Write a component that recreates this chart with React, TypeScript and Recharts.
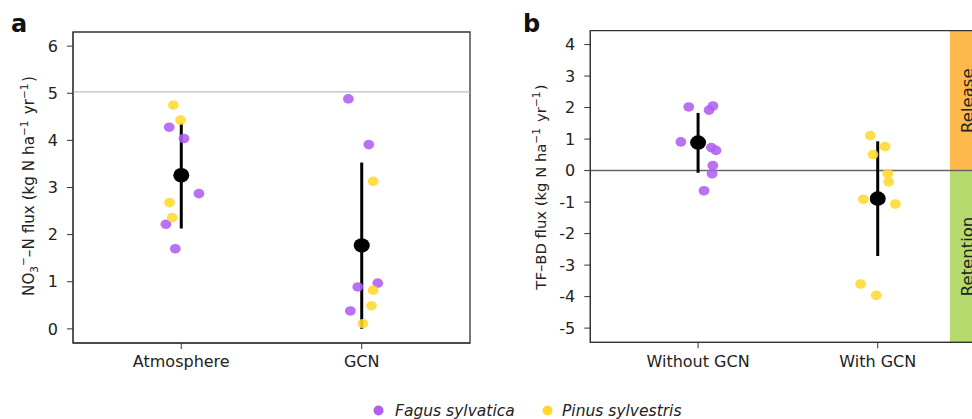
import {
  ErrorBar,
  ReferenceArea,
  ReferenceLine,
  Scatter,
  ScatterChart,
  XAxis,
  YAxis,
} from "recharts";

// categories
const groupsA = ["Atmosphere", "GCN"];
const groupsB = ["Without GCN", "With GCN"];

// panel a: [jitter offset from group centre, flux]
const atmFagus = [
  [-0.067, 4.28],
  [0.015, 4.04],
  [0.098, 2.87],
  [-0.085, 2.22],
  [-0.033, 1.7],
];
const atmPinus = [
  [-0.044, 4.75],
  [-0.004, 4.43],
  [-0.065, 2.68],
  [-0.05, 2.36],
];
const gcnFagus = [
  [-0.074, 4.88],
  [0.039, 3.91],
  [0.089, 0.97],
  [-0.022, 0.89],
  [-0.063, 0.38],
];
const gcnPinus = [
  [0.063, 3.13],
  [0.063, 0.82],
  [0.054, 0.49],
  [0.006, 0.11],
];
const meanA = [3.26, 1.77];
const lowA = [2.13, 0];
const highA = [4.37, 3.53];
const refLineA = 5.03;

// panel b
const withoutFagus = [
  [-0.052, 2.02],
  [0.083, 2.05],
  [0.061, 1.92],
  [-0.096, 0.91],
  [0.074, 0.73],
  [0.1, 0.64],
  [0.082, 0.16],
  [0.078, -0.1],
  [0.033, -0.64],
];
const withPinus = [
  [-0.041, 1.11],
  [0.041, 0.76],
  [-0.026, 0.51],
  [0.056, -0.1],
  [0.061, -0.36],
  [-0.08, -0.91],
  [0.098, -1.06],
  [-0.095, -3.6],
  [-0.008, -3.96],
];
const meanB = [0.89, -0.89];
const lowB = [-0.07, -2.71];
const highB = [1.83, 0.93];

const ticksA = [0, 1, 2, 3, 4, 5, 6];
const ticksB = [-5, -4, -3, -2, -1, 0, 1, 2, 3, 4];

const PURPLE = "#b05ef0";
const YELLOW = "#ffd92e";
const FONT = "'DejaVu Sans', sans-serif";
const INK = "#222";

const toPoints = (group: number, pairs: number[][]) =>
  pairs.map(([off, v]) => ({ x: group + off, y: v }));

const toMeans = (means: number[], low: number[], high: number[]) =>
  means.map((m, i) => ({ x: i + 1, y: m, err: [m - low[i], high[i] - m] }));

const dot = (fill: string) => (props: any) =>
  (
    <ellipse
      cx={props.cx}
      cy={props.cy}
      rx={5.4}
      ry={4.8}
      fill={fill}
      fillOpacity={0.88}
    />
  );

const meanDot = (props: any) => (
  <ellipse cx={props.cx} cy={props.cy} rx={8} ry={7.3} fill="#000" />
);

const tickStyle = { fontSize: 16, fill: INK, fontFamily: FONT };

const sideLabel = (text: string) => (props: any) => {
  const vb = props.viewBox || {};
  const cx = vb.x + vb.width / 2;
  const cy = vb.y + vb.height / 2;
  return (
    <text
      x={cx}
      y={cy}
      transform={`rotate(-90, ${cx}, ${cy})`}
      textAnchor="middle"
      dominantBaseline="central"
      fontSize={16.5}
      fontFamily={FONT}
      fill={INK}
    >
      {text}
    </text>
  );
};

const PanelA = () => (
  <ScatterChart
    width={480}
    height={419}
    margin={{ top: 32, right: 10, bottom: 46, left: 13 }}
  >
    <XAxis
      type="number"
      dataKey="x"
      domain={[0.4, 2.6]}
      ticks={[1, 2]}
      tickFormatter={(v: number) => groupsA[v - 1]}
      allowDataOverflow
      height={30}
      tickSize={6}
      tickMargin={7}
      stroke="#333"
      tick={tickStyle}
    />
    <YAxis
      type="number"
      dataKey="y"
      domain={[-0.3, 6.3]}
      ticks={ticksA}
      allowDataOverflow
      width={60}
      tickSize={6}
      tickMargin={9}
      stroke="#333"
      tick={tickStyle}
    />
    <ReferenceLine y={refLineA} stroke="#bdbdbd" strokeWidth={1.2} />
    <ReferenceArea
      x1={0.4}
      x2={2.6}
      y1={-0.3}
      y2={6.3}
      fill="none"
      stroke="#333"
      strokeWidth={1.3}
    />
    <Scatter
      data={toMeans(meanA, lowA, highA)}
      shape={meanDot}
      isAnimationActive={false}
    >
      <ErrorBar
        dataKey="err"
        direction="y"
        width={0}
        stroke="#000"
        strokeWidth={3}
      />
    </Scatter>
    <Scatter
      data={[...toPoints(1, atmFagus), ...toPoints(2, gcnFagus)]}
      shape={dot(PURPLE)}
      isAnimationActive={false}
    />
    <Scatter
      data={[...toPoints(1, atmPinus), ...toPoints(2, gcnPinus)]}
      shape={dot(YELLOW)}
      isAnimationActive={false}
    />
  </ScatterChart>
);

const PanelB = () => (
  <ScatterChart
    width={500}
    height={419}
    margin={{ top: 30.7, right: 4.5, bottom: 46.7, left: 40.3 }}
  >
    <XAxis
      type="number"
      dataKey="x"
      domain={[0.4, 2.6]}
      ticks={[1, 2]}
      tickFormatter={(v: number) => groupsB[v - 1]}
      allowDataOverflow
      height={30}
      tickSize={6}
      tickMargin={7}
      stroke="#333"
      tick={tickStyle}
    />
    <YAxis
      type="number"
      dataKey="y"
      domain={[-5.45, 4.44]}
      ticks={ticksB}
      allowDataOverflow
      width={60}
      tickSize={6}
      tickMargin={9}
      stroke="#333"
      tick={tickStyle}
    />
    <ReferenceArea
      x1={2.402}
      x2={2.6}
      y1={0}
      y2={4.44}
      fill="#fdb94c"
      fillOpacity={1}
      label={{ content: sideLabel("Release") }}
    />
    <ReferenceArea
      x1={2.402}
      x2={2.6}
      y1={-5.45}
      y2={0}
      fill="#b7da6f"
      fillOpacity={1}
      label={{ content: sideLabel("Retention") }}
    />
    <ReferenceLine y={0} stroke="#666" strokeWidth={1.5} />
    <ReferenceArea
      x1={0.4}
      x2={2.6}
      y1={-5.45}
      y2={4.44}
      fill="none"
      stroke="#333"
      strokeWidth={1.3}
    />
    <Scatter
      data={toMeans(meanB, lowB, highB)}
      shape={meanDot}
      isAnimationActive={false}
    >
      <ErrorBar
        dataKey="err"
        direction="y"
        width={0}
        stroke="#000"
        strokeWidth={3}
      />
    </Scatter>
    <Scatter
      data={toPoints(1, withoutFagus)}
      shape={dot(PURPLE)}
      isAnimationActive={false}
    />
    <Scatter
      data={toPoints(2, withPinus)}
      shape={dot(YELLOW)}
      isAnimationActive={false}
    />
  </ScatterChart>
);

const Sup = ({ children }: { children: string }) => (
  <>
    <tspan dy={-6} fontSize={10.5}>
      {children}
    </tspan>
    <tspan dy={6}>{"\u200a"}</tspan>
  </>
);

export default function App() {
  return (
    <div
      style={{
        position: "fixed",
        left: 0,
        top: 0,
        width: 972,
        height: 419,
        overflow: "hidden",
        background: "#fff",
        fontFamily: FONT,
      }}
    >
      <div style={{ position: "absolute", left: 0, top: 0 }}>
        <PanelA />
      </div>
      <div style={{ position: "absolute", left: 490, top: 0 }}>
        <PanelB />
      </div>
      <svg
        width={972}
        height={419}
        style={{ position: "absolute", left: 0, top: 0, pointerEvents: "none" }}
        fontFamily={FONT}
      >
        <text x={11} y={32} fontSize={24} fontWeight={700} fill="#111">
          a
        </text>
        <text x={523} y={32} fontSize={24} fontWeight={700} fill="#111">
          b
        </text>
        <text
          x={34}
          y={186}
          transform="rotate(-90, 34, 186)"
          textAnchor="middle"
          fontSize={15.2}
          fill={INK}
        >
          NO
          <tspan dy={4} fontSize={10.5}>
            3
          </tspan>
          <tspan dy={-11} fontSize={10.5}>
            −
          </tspan>
          <tspan dy={7}>–N flux (kg N ha</tspan>
          <Sup>−1</Sup>
          <tspan> yr</tspan>
          <Sup>−1</Sup>
          <tspan>)</tspan>
        </text>
        <text
          x={546}
          y={187}
          transform="rotate(-90, 546, 187)"
          textAnchor="middle"
          fontSize={14.8}
          fill={INK}
        >
          TF–BD flux (kg N ha
          <Sup>−1</Sup>
          <tspan> yr</tspan>
          <Sup>−1</Sup>
          <tspan>)</tspan>
        </text>
        <circle cx={378.5} cy={410.5} r={5} fill={PURPLE} />
        <text x={395} y={416} fontSize={15.5} fontStyle="italic" fill={INK}>
          Fagus sylvatica
        </text>
        <circle cx={547.5} cy={410.5} r={5} fill={YELLOW} />
        <text x={562} y={416} fontSize={15.5} fontStyle="italic" fill={INK}>
          Pinus sylvestris
        </text>
      </svg>
    </div>
  );
}
